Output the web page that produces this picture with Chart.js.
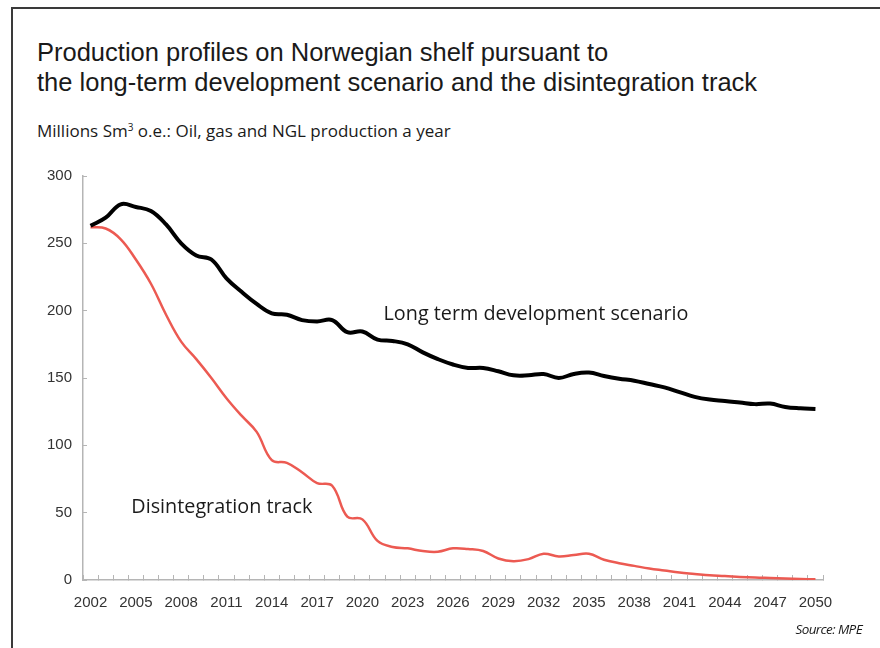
<!DOCTYPE html>
<html>
<head>
<meta charset="utf-8">
<script src="https://cdn.jsdelivr.net/npm/chart.js@4/dist/chart.umd.min.js"></script>
<style>
  html, body { margin: 0; padding: 0; background: #fff; }
  #wrap { position: relative; width: 880px; height: 648px; overflow: hidden; background: #fff; }
  #frame { position: absolute; left: 11px; top: 7px; width: 900px; height: 700px; border-left: 2px solid #3a3a3a; border-top: 2px solid #3a3a3a; box-sizing: border-box; }
  #title { position: absolute; left: 37px; top: 37px; font-family: "Liberation Sans", Arial, sans-serif; font-size: 25.5px; line-height: 30px; color: #1a1a1a; white-space: nowrap; }
  #subtitle { position: absolute; left: 37px; top: 120px; font-family: "Open Sans", sans-serif; font-size: 17px; line-height: 22px; color: #1a1a1a; white-space: nowrap; }
  #subtitle sup { font-size: 10px; vertical-align: 6px; line-height: 0; }
  #source { position: absolute; right: 18px; top: 620px; font-family: "Open Sans", sans-serif; font-style: italic; font-size: 13.5px; color: #1a1a1a; letter-spacing: -0.6px; }
  canvas { position: absolute; left: 0; top: 0; }
</style>
</head>
<body>
<div id="wrap">
  <div id="frame"></div>
  <div id="title">Production profiles on Norwegian shelf pursuant to<br>the long-term development scenario and the disintegration track</div>
  <div id="subtitle">Millions Sm<sup>3</sup> o.e.: Oil, gas and NGL production a year</div>
  <canvas id="c" width="880" height="648"></canvas>
  <div id="source">Source: MPE</div>
</div>
<script>
const years = [];
for (let y = 2002; y <= 2050; y++) years.push(String(y));

const longTermScenario = [
  263, 269, 279, 277, 274, 264, 250, 241, 238, 224,
  214, 205, 198, 197, 193, 192, 193, 184, 184.5, 178.5,
  177.5, 175, 169, 164, 160, 157.5, 157.5, 155, 152, 152,
  153, 150, 153, 154, 151.5, 149.5, 148, 145.5, 143, 139.5,
  136, 134, 133, 131.8, 130.6, 131, 128.5, 127.5, 127
];

const disintegrationTrack = [
  262, 261, 253, 238, 220, 197, 177, 164, 150, 135,
  122, 110, 89, 87, 80, 72, 70, 47, 45, 29,
  24.5, 23.5, 21.5, 21, 23.5, 23, 21.5, 16, 14, 15.5,
  19.5, 17.5, 18.5, 19.5, 15, 12.5, 10.5, 8.5, 7, 5.5,
  4.5, 3.5, 3, 2.3, 1.8, 1.5, 1.2, 0.8, 0.5
];

const yTicks = [0, 50, 100, 150, 200, 250, 300];

const seriesLabels = ["Long term development scenario", "Disintegration track"];

const annotationPlugin = {
  id: 'seriesLabels',
  afterDatasetsDraw(chart, args, opts) {
    const ctx = chart.ctx;
    const xs = chart.scales.x, ys = chart.scales.y;
    ctx.save();
    ctx.font = opts.font;
    ctx.fillStyle = opts.color;
    ctx.textAlign = 'left';
    ctx.textBaseline = 'middle';
    opts.items.forEach(it => {
      ctx.fillText(it.text, xs.getPixelForValue(it.index), ys.getPixelForValue(it.value));
    });
    ctx.restore();
  }
};

new Chart(document.getElementById('c'), {
  type: 'line',
  data: {
    labels: years,
    datasets: [
      {
        label: seriesLabels[0],
        data: longTermScenario,
        borderColor: '#000000',
        borderWidth: 4,
        pointRadius: 0,
        tension: 0.4,
        fill: false
      },
      {
        label: seriesLabels[1],
        data: disintegrationTrack,
        borderColor: '#ec5a52',
        borderWidth: 2.5,
        pointRadius: 0,
        tension: 0.4,
        fill: false
      }
    ]
  },
  options: {
    responsive: false,
    animation: false,
    layout: { padding: { left: 0, top: 176, right: 57, bottom: 30 } },
    plugins: {
      legend: { display: false },
      tooltip: { enabled: false },
      seriesLabels: {
        font: '19.8px "Open Sans", sans-serif',
        color: '#1a1a1a',
        items: [
          { text: seriesLabels[0], index: 19.4, value: 197 },
          { text: seriesLabels[1], index: 2.7, value: 54 }
        ]
      }
    },
    scales: {
      x: {
        type: 'category',
        offset: true,
        grid: {
          offset: true,
          drawOnChartArea: false,
          drawTicks: true,
          tickLength: -5,
          tickColor: '#b5b5b5',
          tickWidth: 1
        },
        border: { color: '#b5b5b5', width: 1.5 },
        ticks: {
          autoSkip: false,
          maxRotation: 0,
          minRotation: 0,
          padding: 19,
          color: '#333',
          font: { family: '"Liberation Sans", Arial, sans-serif', size: 15 },
          callback: function (val, idx) {
            const lbl = this.getLabelForValue(val);
            return (Number(lbl) - 2002) % 3 === 0 ? lbl : '';
          }
        },
        afterFit(scale) { scale.height = 38; }
      },
      y: {
        min: 0,
        max: 300,
        afterBuildTicks(scale) { scale.ticks = yTicks.map(v => ({ value: v })); },
        grid: {
          drawOnChartArea: false,
          drawTicks: true,
          tickLength: -4,
          tickColor: '#b5b5b5',
          tickWidth: 1
        },
        border: { color: '#b5b5b5', width: 1.5 },
        ticks: {
          padding: 15,
          color: '#333',
          font: { family: '"Liberation Sans", Arial, sans-serif', size: 15 }
        },
        afterFit(scale) { scale.width = 83; }
      }
    }
  },
  plugins: [annotationPlugin]
});
</script>
</body>
</html>
